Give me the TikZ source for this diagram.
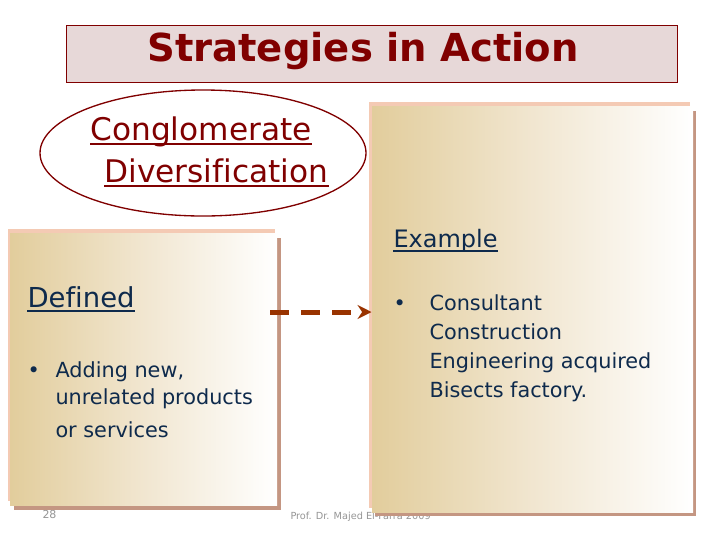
\documentclass[tikz,border=0pt]{standalone}
\usepackage{fontspec}
\setmainfont{DejaVu Sans}[Ligatures=NoCommon]
\usetikzlibrary{arrows.meta,shapes.geometric}

\definecolor{maroon}{RGB}{128,0,0}
\definecolor{titlefill}{RGB}{231,216,216}
\definecolor{boxtan}{RGB}{226,205,156}
\definecolor{boxmid}{RGB}{241,230,208}
\definecolor{edgepink}{RGB}{244,202,180}
\definecolor{edgebrown}{RGB}{196,150,130}
\definecolor{navytext}{RGB}{14,42,76}
\definecolor{rust}{RGB}{153,51,0}
\definecolor{footgray}{RGB}{150,150,150}

\tikzset{every picture/.style={line width=0.75pt}}
\tikzset{
	slidebox/.style={draw=none, left color=boxtan, right color=white, middle color=boxmid, inner sep=0pt},
	boxtext/.style={anchor=base west, inner sep=0pt, text=navytext, font=\fontsize{15.6pt}{18pt}\selectfont},
	headtext/.style={anchor=base west, inner sep=0pt},
	underline/.style={line width=1.5pt},
	foottext/.style={anchor=base west, inner sep=0pt, text=footgray},
	dasharrow/.style={draw=rust, line width=3.75pt, dash pattern=on 14.25pt off 9pt, -{Stealth[length=10.5pt,width=10.5pt,inset=3.5pt]}}
}

\begin{document}
\begin{tikzpicture}[x=0.75pt,y=0.75pt,yscale=-1,xscale=1]
	\useasboundingbox (0,0) rectangle (720,540);
	\fill [white] (0,0) rectangle (720,540);

	% Text Node
	\node (pagenum) at (42,518) [foottext, font=\fontsize{8.25pt}{10pt}\selectfont] {28};
	% Text Node
	\node (footer) at (290,519) [foottext, font=\fontsize{7.3pt}{9pt}\selectfont] {Prof. Dr. Majed El-Farra 2009};

	%Shape: Rectangle
	\node (titlebox) at (371.5,53.5) [draw=maroon, fill=titlefill, minimum width=458.25pt, minimum height=42.75pt, inner sep=0pt] {};
	% Text Node
	\node (title) at (363,61) [anchor=base, inner sep=0pt, text=maroon, font=\bfseries\fontsize{28.9pt}{32pt}\selectfont] {Strategies in Action};

	%Shape: Ellipse
	\node (conglo) at (203,153) [ellipse, draw=maroon, line width=1pt, fill=white, minimum width=244.5pt, minimum height=94.5pt, inner sep=0pt] {};
	% Text Node
	\node (conglo1) at (90,140) [headtext, text=maroon, font=\fontsize{23.4pt}{28pt}\selectfont] {Conglomerate};
	\draw [underline, maroon] ([shift={(0,4)}]conglo1.base west) -- ([shift={(0,4)}]conglo1.base east);
	% Text Node
	\node (conglo2) at (104,182) [headtext, text=maroon, font=\fontsize{23.4pt}{28pt}\selectfont] {Diversification};
	\draw [underline, maroon] ([shift={(0,4)}]conglo2.base west) -- ([shift={(0,4)}]conglo2.base east);

	%Shape: Rectangle (edges of the left box)
	\fill [edgepink] (8,229) rectangle (275,501);
	\fill [edgebrown] (14,238) rectangle (281,510);
	%Shape: Rectangle
	\node (defbox) at (143.5,369) [slidebox, minimum width=200.25pt, minimum height=204pt] {};

	%Shape: Rectangle (edges of the right box)
	\fill [edgepink] (369,102) rectangle (690,508);
	\fill [edgebrown] (375,111) rectangle (696,516);
	%Shape: Rectangle
	\node (exbox) at (532.5,309) [slidebox, minimum width=240.75pt, minimum height=304.5pt] {};

	% Text Node
	\node (defhead) at (27,307) [headtext, text=navytext, font=\fontsize{20.6pt}{24pt}\selectfont] {Defined};
	\draw [underline, navytext] ([shift={(0,3.5)}]defhead.base west) -- ([shift={(0,3.5)}]defhead.base east);
	% Text Node
	\node (defbul) at (27,377) [boxtext] {•};
	\node (defl1) at (55,377) [boxtext] {Adding new,};
	\node (defl2) at (55,404) [boxtext] {unrelated products};
	\node (defl3) at (55,437) [boxtext] {or services};

	% Text Node
	\node (exhead) at (393,247) [headtext, text=navytext, font=\fontsize{18pt}{22pt}\selectfont] {Example};
	\draw [underline, navytext] ([shift={(0,3.5)}]exhead.base west) -- ([shift={(0,3.5)}]exhead.base east);
	% Text Node
	\node (exbul) at (393,310) [boxtext] {•};
	\node (exl1) at (429,310) [boxtext] {Consultant};
	\node (exl2) at (429,339) [boxtext] {Construction};
	\node (exl3) at (429,368) [boxtext] {Engineering acquired};
	\node (exl4) at (429,397) [boxtext] {Bisects factory.};

	%Dashed Arrow
	\coordinate (arrstart) at (270,312);
	\draw [dasharrow] (arrstart) -- (arrstart -| exbox.west);

\end{tikzpicture}
\end{document}
